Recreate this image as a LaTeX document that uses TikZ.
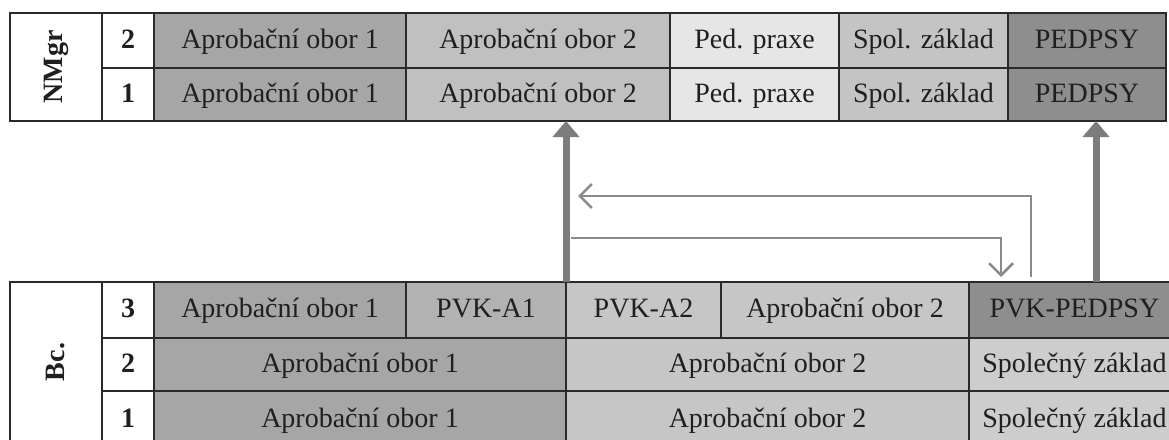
\documentclass[tikz,border=0pt]{standalone}
\usepackage{fontspec}
\setmainfont{Liberation Serif}
\usetikzlibrary{arrows.meta}
\definecolor{bordercol}{HTML}{2A2A2A}
\definecolor{cA}{HTML}{A6A6A6}
\definecolor{cB}{HTML}{C0C0C0}
\definecolor{cP}{HTML}{E6E6E6}
\definecolor{cS}{HTML}{C4C4C4}
\definecolor{cD}{HTML}{8E8E8E}
\definecolor{cV}{HTML}{B2B2B2}
\definecolor{cB2}{HTML}{C6C6C6}
\definecolor{cZ}{HTML}{CDCDCD}
\definecolor{arrowgray}{HTML}{7C7C7C}
\definecolor{thingray}{HTML}{8A8A8A}
\newcommand\mycell[8][]{%
  \node[cell,#1,fill=#7,minimum width={#5pt-#3pt},minimum height={#6pt-#4pt}]
    (#2) at ({(#3+#5)/2},{(#4+#6)/2}) {#8};}
\begin{document}
\begin{tikzpicture}[x=1pt,y=-1pt,
  cell/.style={draw=bordercol,line width=1.4pt,inner sep=0pt,outer sep=0pt,
    font=\fontsize{28}{32}\selectfont,text=black!88,
    text height=19pt,text depth=4pt},
  numcell/.style={font=\fontsize{28}{32}\selectfont\bfseries},
  sidelabel/.style={rotate=90,inner sep=0pt,
    font=\fontsize{28}{32}\selectfont\bfseries,text=black!88},
  bigarrow/.style={draw=arrowgray,line width=7pt,
    -{Triangle[width=26pt,length=16pt]}},
  thinarrow/.style={draw=thingray,line width=2.5pt,
    -{Straight Barb[length=12pt,width=24pt]}}]
\useasboundingbox[fill=white] (0,0) rectangle (1169,439);
% ---------- top table (NMgr)
\mycell{tlab}{10}{13}{102}{121}{white}{}
\node[sidelabel] (tlabt) at (tlab.center) {NMgr};
\mycell[numcell]{tn2}{102}{13}{154}{68}{white}{2}
\mycell[numcell]{tn1}{102}{68}{154}{121}{white}{1}
\mycell{t2a}{154}{13}{406}{68}{cA}{Aprobační obor 1}
\mycell{t2b}{406}{13}{670}{68}{cB}{Aprobační obor 2}
\mycell{t2c}{670}{13}{839}{68}{cP}{Ped. praxe}
\mycell{t2d}{839}{13}{1008}{68}{cS}{Spol. základ}
\mycell{t2e}{1008}{13}{1166}{68}{cD}{PEDPSY}
\mycell{t1a}{154}{68}{406}{121}{cA}{Aprobační obor 1}
\mycell{t1b}{406}{68}{670}{121}{cB}{Aprobační obor 2}
\mycell{t1c}{670}{68}{839}{121}{cP}{Ped. praxe}
\mycell{t1d}{839}{68}{1008}{121}{cS}{Spol. základ}
\mycell{t1e}{1008}{68}{1166}{121}{cD}{PEDPSY}
% ---------- bottom table (Bc.)
\mycell{blab}{10}{282}{102}{448}{white}{}
\node[sidelabel] (blabt) at (56,362) {Bc.};
\mycell[numcell]{bn3}{102}{282}{154}{338}{white}{3}
\mycell[numcell]{bn2}{102}{338}{154}{391}{white}{2}
\mycell[numcell]{bn1}{102}{391}{154}{448}{white}{1}
\mycell{b3a}{154}{282}{406}{338}{cA}{Aprobační obor 1}
\mycell{b3b}{406}{282}{566}{338}{cV}{PVK-A1}
\mycell{b3c}{566}{282}{721}{338}{cB2}{PVK-A2}
\mycell{b3d}{721}{282}{969}{338}{cB2}{Aprobační obor 2}
\mycell{b3e}{969}{282}{1180}{338}{cD}{PVK-PEDPSY}
\mycell{b2a}{154}{338}{566}{391}{cA}{Aprobační obor 1}
\mycell{b2b}{566}{338}{969}{391}{cB2}{Aprobační obor 2}
\mycell{b2c}{969}{338}{1180}{391}{cZ}{Společný základ}
\mycell{b1a}{154}{391}{566}{448}{cA}{Aprobační obor 1}
\mycell{b1b}{566}{391}{969}{448}{cB2}{Aprobační obor 2}
\mycell{b1c}{969}{391}{1180}{448}{cZ}{Společný základ}
% ---------- arrows
\coordinate (ra) at (1096,282);
\draw[bigarrow] (b3c.north west) -- (b3c.north west |- t1b.south);
\draw[bigarrow] (ra) -- (ra |- t1e.south);
\coordinate (u0) at (1031,277);
\coordinate (u1) at (578,196);
\draw[thinarrow] (u0) |- (u1);
\coordinate (d0) at (571,238);
\coordinate (d1) at (1001,277);
\draw[thinarrow] (d0) -| (d1);
\end{tikzpicture}
\end{document}
